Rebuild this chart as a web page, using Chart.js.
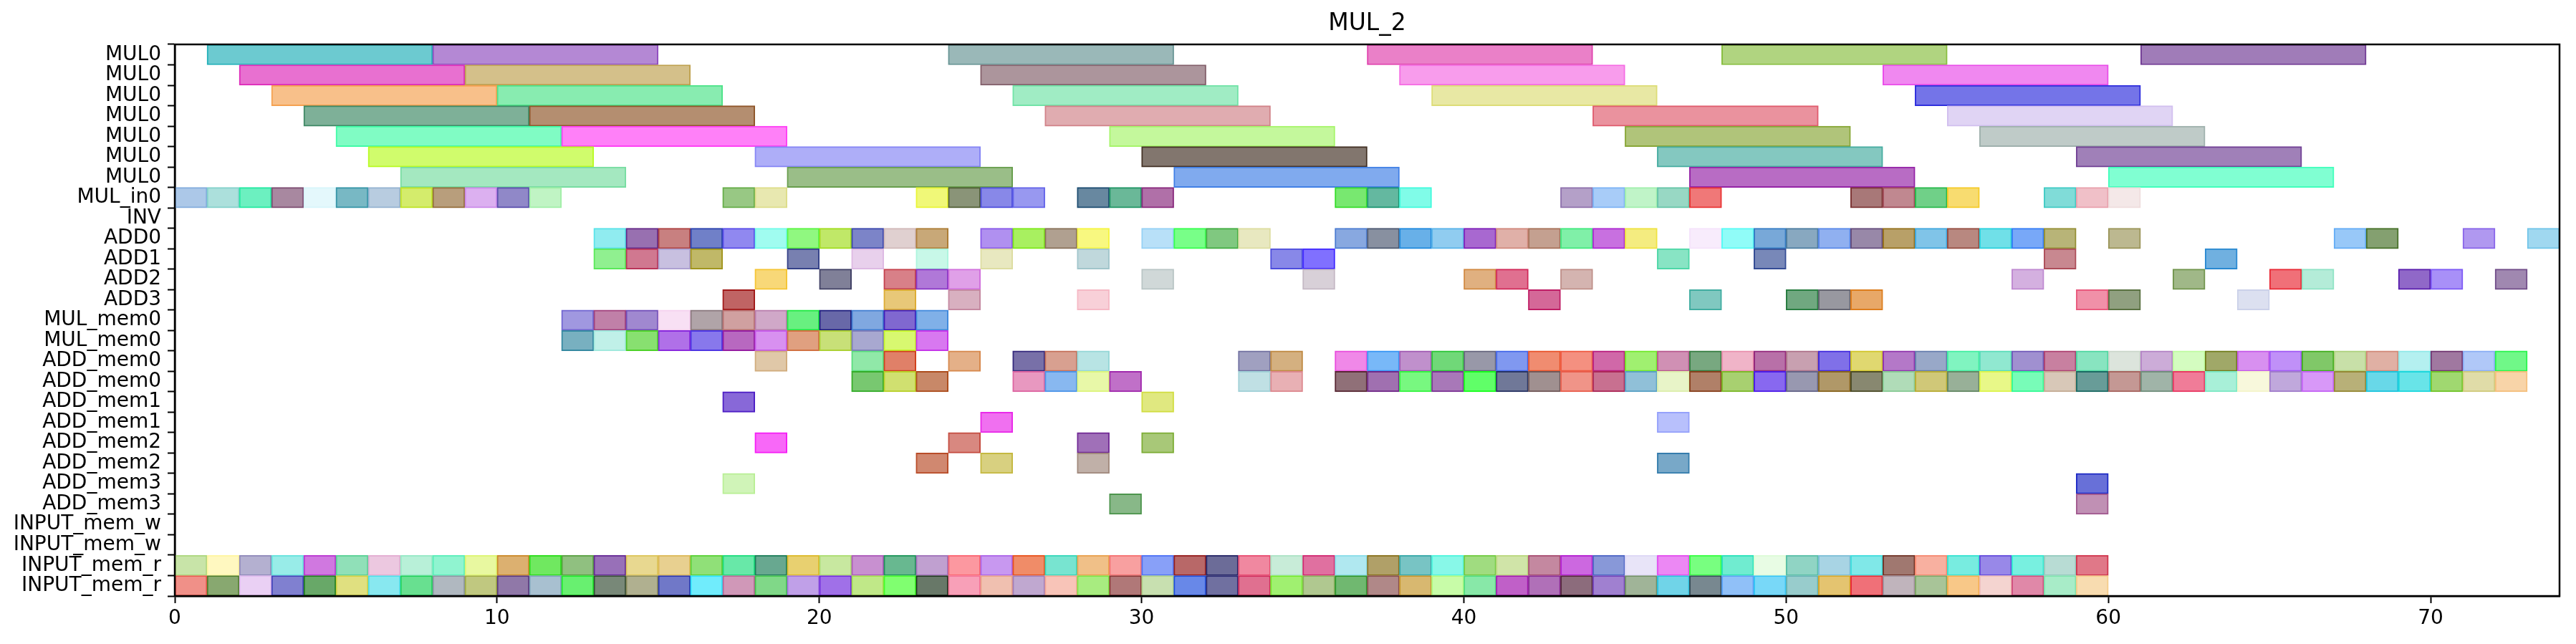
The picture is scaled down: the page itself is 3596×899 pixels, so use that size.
<!DOCTYPE html>
<html>
<head>
<meta charset="utf-8">
<title>MUL_2</title>
<script src="https://cdn.jsdelivr.net/npm/chart.js@4.4.1/dist/chart.umd.min.js"></script>
<style>
    html, body { margin: 0; padding: 0; background: #fff; }
    #wrap { width: 3596px; height: 899px; position: relative; }
</style>
</head>
<body>
<div id="wrap"><canvas id="schedule-chart"></canvas></div>
<script>
// row names, top to bottom
const rowLabels = [
    "MUL0", "MUL0", "MUL0", "MUL0", "MUL0", "MUL0", "MUL0",
    "MUL_in0", "INV", "ADD0", "ADD1", "ADD2", "ADD3",
    "MUL_mem0", "MUL_mem0", "ADD_mem0", "ADD_mem0",
    "ADD_mem1", "ADD_mem1", "ADD_mem2", "ADD_mem2",
    "ADD_mem3", "ADD_mem3", "INPUT_mem_w", "INPUT_mem_w",
    "INPUT_mem_r", "INPUT_mem_r",
];

// durations
const mulLatency = 7;
const cellLatency = 1;

// start times per row
const mul0Starts = [
    [1, 8, 24, 37, 48, 61],
    [2, 9, 25, 38, 53],
    [3, 10, 26, 39, 54],
    [4, 11, 27, 44, 55],
    [5, 12, 29, 45, 56],
    [6, 18, 30, 46, 59],
    [7, 19, 31, 47, 60],
];
const mulIn0Starts = [0, 1, 2, 3, 4, 5, 6, 7, 8, 9, 10, 11, 17, 18, 23, 24, 25, 26, 28, 29, 30,
    36, 37, 38, 43, 44, 45, 46, 47, 52, 53, 54, 55, 58, 59, 60];
const invStarts = [];
const add0Starts = [13, 14, 15, 16, 17, 18, 19, 20, 21, 22, 23, 25, 26, 27, 28, 30, 31, 32, 33,
    36, 37, 38, 39, 40, 41, 42, 43, 44, 45, 47, 48, 49, 50, 51, 52, 53, 54, 55, 56, 57, 58, 60,
    67, 68, 71, 73];
const add1Starts = [13, 14, 15, 16, 19, 21, 23, 25, 28, 34, 35, 46, 49, 58, 63];
const add2Starts = [18, 20, 22, 23, 24, 30, 35, 40, 41, 43, 57, 62, 65, 66, 69, 70, 72];
const add3Starts = [17, 22, 24, 28, 42, 47, 50, 51, 52, 59, 60, 64];
const mulMem0Starts = [
    [12, 13, 14, 15, 16, 17, 18, 19, 20, 21, 22, 23],
    [12, 13, 14, 15, 16, 17, 18, 19, 20, 21, 22, 23],
];
const addMem0Starts = [
    [18, 21, 22, 24, 26, 27, 28, 33, 34, 36, 37, 38, 39, 40, 41, 42, 43, 44, 45, 46, 47, 48, 49,
        50, 51, 52, 53, 54, 55, 56, 57, 58, 59, 60, 61, 62, 63, 64, 65, 66, 67, 68, 69, 70, 71, 72],
    [21, 22, 23, 26, 27, 28, 29, 33, 34, 36, 37, 38, 39, 40, 41, 42, 43, 44, 45, 46, 47, 48, 49,
        50, 51, 52, 53, 54, 55, 56, 57, 58, 59, 60, 61, 62, 63, 64, 65, 66, 67, 68, 69, 70, 71, 72],
];
const addMem1Starts = [[17, 30], [25, 46]];
const addMem2Starts = [[18, 24, 28, 30], [23, 25, 28, 46]];
const addMem3Starts = [[17, 59], [29, 59]];
const inputMemWStarts = [[], []];
const inputMemRStarts = [
    [0, 1, 2, 3, 4, 5, 6, 7, 8, 9, 10, 11, 12, 13, 14, 15, 16, 17, 18, 19, 20, 21, 22, 23, 24, 25,
        26, 27, 28, 29, 30, 31, 32, 33, 34, 35, 36, 37, 38, 39, 40, 41, 42, 43, 44, 45, 46, 47, 48,
        49, 50, 51, 52, 53, 54, 55, 56, 57, 58, 59],
    [0, 1, 2, 3, 4, 5, 6, 7, 8, 9, 10, 11, 12, 13, 14, 15, 16, 17, 18, 19, 20, 21, 22, 23, 24, 25,
        26, 27, 28, 29, 30, 31, 32, 33, 34, 35, 36, 37, 38, 39, 40, 41, 42, 43, 44, 45, 46, 47, 48,
        49, 50, 51, 52, 53, 54, 55, 56, 57, 58, 59],
];

// x axis
const xMax = 74;
const xStep = 10;

// fill colours, same shape as the start arrays
const mul0Colors = [
    ["#6ccad0", "#b488d4", "#9ab8b8", "#ea80c8", "#b0d480", "#a07cb8"],
    ["#e870d0", "#d4c08a", "#ac959c", "#f89cec", "#f088f0"],
    ["#f8c08a", "#88ecb0", "#a0ecc4", "#e8e8a4", "#7474e8"],
    ["#7eb098", "#b48e70", "#e0acb0", "#ea929e", "#e0d4f4"],
    ["#80fcc4", "#ff80f8", "#c4f89c", "#b0c47a", "#bfcbc8"],
    ["#d0fc6c", "#aeaef8", "#82766e", "#84c8c0", "#a080b8"],
    ["#a4e8c0", "#9abe88", "#80aaee", "#b86cc4", "#80ffd2"],
];
const mulIn0Colors = ["#acc8e8", "#ace0dc", "#6cf0c0", "#a888a0", "#e4f8fc", "#78b8c4", "#b8cce0",
    "#d4ec6c", "#b89e7c", "#dcb0f0", "#9088c8", "#c0f4c4", "#98c884", "#e8e8b0", "#f0f878",
    "#8a9478", "#8888e8", "#9898f0", "#6888a0", "#6ab898", "#b070a8", "#78e870", "#64b8a0",
    "#80fce8", "#b4a0c8", "#a8ccf8", "#c0f4c8", "#98d8c4", "#f07878", "#a87878", "#c08890",
    "#70d088", "#f8dc70", "#80dcd8", "#f0c0c8", "#f4e8e8"];
const invColors = [];
const add0Colors = ["#90ecf0", "#9870b0", "#c88080", "#7080c8", "#9088f0", "#a0fcf0", "#90f880",
    "#c0e868", "#7c84c8", "#e0d0d0", "#c8a878", "#b090f0", "#a8f060", "#b0a090", "#f8f880",
    "#b8e0f8", "#78ff88", "#80c880", "#e8e8c0", "#88a8e0", "#8890a0", "#68b0e8", "#90ccf0",
    "#a868d0", "#e0b0a8", "#c4a090", "#80f0a8", "#c870e0", "#f4ec80", "#f8ecfc", "#90fcf8",
    "#78a8d8", "#88a8c0", "#90b0f0", "#9888a8", "#b8a068", "#80c4e8", "#b88880", "#70e0e8",
    "#78a8f8", "#b8b478", "#bcb890", "#98c8f8", "#84a070", "#b098f0", "#a0d8f0"];
const add1Colors = ["#90f090", "#d07890", "#c8c0e0", "#c0b868", "#7880b0", "#e8d0ec", "#c8f8e8",
    "#e8e8c0", "#c0d8dc", "#8888e8", "#8070ff", "#88e4c4", "#7888b8", "#c88890", "#70b0e0"];
const add2Colors = ["#f8d878", "#808098", "#d88088", "#b078d8", "#e0a0e8", "#d0d8d8", "#d8d0d8",
    "#e0b080", "#e07090", "#d4b4b0", "#d4b0e0", "#a0b888", "#f07078", "#b4ecd8", "#9068c8",
    "#a890f8", "#a088b0"];
const add3Colors = ["#c06464", "#e8c878", "#d8b0c0", "#f8d0d8", "#d46898", "#80c8c0", "#70a880",
    "#9898a0", "#e8a868", "#f090a8", "#90a080", "#dce0f0"];
const mulMem0Colors = [
    ["#a098e0", "#c080a8", "#a088d0", "#f8e0f4", "#b0a4a8", "#d0a0a0", "#d0a8c8", "#68f080",
        "#6868a8", "#80a8e0", "#8068d0", "#80b0e8"],
    ["#78b0c0", "#c0f0e8", "#88e070", "#b070e8", "#8878ec", "#b868c0", "#d890f0", "#e0a080",
        "#c8e078", "#a8a8d0", "#d8f870", "#d878f0"],
];
const addMem0Colors = [
    ["#e0c8a8", "#90e8a8", "#e08068", "#e4b088", "#7870a8", "#d8a090", "#b8e4e4", "#a0a0c0",
        "#d4b080", "#f088e8", "#78b8f8", "#c090cc", "#70d878", "#9898a8", "#8098f0", "#f08c70",
        "#f49080", "#d068a8", "#a0f070", "#d090b4", "#78a880", "#f0b4c8", "#b870a8", "#c8a0b0",
        "#8070e8", "#e0d870", "#b478c8", "#98a8c8", "#80f4c0", "#90e8d0", "#a090d0", "#c880a0",
        "#88e4c0", "#dce4dc", "#ccacd8", "#d4fcc0", "#a0a868", "#d890f0", "#c090f8", "#80c868",
        "#c8e0a8", "#e0b0a4", "#b4f0f0", "#a078a0", "#b0c8f8", "#70f888"],
    ["#78c870", "#d0e070", "#c88868", "#e898c0", "#88b8f0", "#e8f8a8", "#c070c8", "#c0e0e4",
        "#e8b0b4", "#907078", "#a070b0", "#78f880", "#a878b8", "#60ff68", "#707898", "#a09090",
        "#f09488", "#c87090", "#90c0d8", "#e8f4c8", "#b08068", "#a8d070", "#8868f0", "#9898b0",
        "#b09868", "#888870", "#b0dcb8", "#d0c878", "#98b098", "#e8f888", "#78fcb8", "#d8c8b8",
        "#689c98", "#c49894", "#a0b4a8", "#f07c98", "#a8f0d8", "#f8f8dc", "#c0a8dc", "#d898f8",
        "#b8b078", "#68d8e8", "#68e4e8", "#a0d870", "#e0dca8", "#f8d4a8"],
];
const addMem1Colors = [["#8868d8", "#e0e880"], ["#f070f0", "#b8c0fc"]];
const addMem2Colors = [["#f868f8", "#d88880", "#a070b8", "#a8c878"], ["#d08870", "#d8d080", "#c0b0a8", "#78a8c8"]];
const addMem3Colors = [["#d0f4b8", "#6870d8"], ["#88b888", "#c090b4"]];
const inputMemWColors = [[], []];
const inputMemRColors = [
    ["#c8e4a8", "#fff8c0", "#b4b0d0", "#98ece8", "#d078e0", "#90e0b8", "#ecc8e0", "#b8f0d8",
        "#90f4d0", "#e8f8a0", "#dcb070", "#70e860", "#90c080", "#9870b8", "#e8d890", "#e8d090",
        "#90e078", "#68e8a8", "#68a890", "#e8d070", "#c8e8a0", "#c890d0", "#68b890", "#c0a0d0",
        "#fc98a0", "#c898f0", "#f08c68", "#78e4d0", "#f0c088", "#f8a0a0", "#88a0f8", "#b86868",
        "#6c6c98", "#f088a0", "#c8ecd8", "#e070a0", "#b0e8f0", "#b0a068", "#78c4c4", "#88f8e8",
        "#a0dc80", "#d0e4a8", "#c488a0", "#cc68e0", "#8898d8", "#e8e4f8", "#ec88f4", "#78ff80",
        "#70ecd0", "#e8fce4", "#90d4c4", "#a8d4e4", "#80e8e8", "#a07870", "#f8b0a0", "#78ece0",
        "#9888e8", "#78f0e0", "#b8dcd4", "#e07888"],
    ["#f09088", "#88a870", "#ead0f4", "#8080d0", "#68a868", "#e0e080", "#88e8f0", "#68e090",
        "#b0b8c0", "#c0c880", "#9078a8", "#a8c0d0", "#68f070", "#788878", "#b0b090", "#7078c8",
        "#70ecfc", "#d098b8", "#80d888", "#c0a0e8", "#a070e8", "#c0e888", "#80ff70", "#687868",
        "#f8a0b8", "#f0c0b0", "#c0a8d0", "#f8c4b8", "#a8ec80", "#b07878", "#c8e0b0", "#6888e8",
        "#7070a0", "#e07090", "#a0f070", "#b0c890", "#70b870", "#b08888", "#d8b870", "#c8fca8",
        "#88e8a8", "#c060c8", "#b070b8", "#8c6c7c", "#a080d0", "#a0b498", "#70d4e8", "#788890",
        "#90c0f8", "#78d8f8", "#98cccc", "#e4c470", "#f07078", "#c0b4bc", "#a8c498", "#f8c888",
        "#f4d4d0", "#e088a8", "#a8ecc8", "#f8dcb0"],
];

const rowStarts = [
    ...mul0Starts, mulIn0Starts, invStarts, add0Starts, add1Starts, add2Starts, add3Starts,
    ...mulMem0Starts, ...addMem0Starts, ...addMem1Starts, ...addMem2Starts, ...addMem3Starts,
    ...inputMemWStarts, ...inputMemRStarts,
];
const rowColors = [
    ...mul0Colors, mulIn0Colors, invColors, add0Colors, add1Colors, add2Colors, add3Colors,
    ...mulMem0Colors, ...addMem0Colors, ...addMem1Colors, ...addMem2Colors, ...addMem3Colors,
    ...inputMemWColors, ...inputMemRColors,
];

// unique keys so repeated names stay on their own row
const rowKeys = rowLabels.map((name, i) => i + "|" + name);

// edge colour: the un-faded colour behind a 0.6 alpha fill
function edgeOf(hex) {
    const n = parseInt(hex.slice(1), 16);
    const rgb = [(n >> 16) & 255, (n >> 8) & 255, n & 255];
    const out = rgb.map((f) => {
        const base = Math.max(0, Math.min(255, (f - 0.4 * 255) / 0.6));
        return Math.round(0.75 * base + 0.25 * f);
    });
    return "rgb(" + out.join(",") + ")";
}

const bars = [];
const fills = [];
const edges = [];
rowStarts.forEach((starts, r) => {
    const dur = r < mul0Starts.length ? mulLatency : cellLatency;
    starts.forEach((s, k) => {
        bars.push({ x: [s, s + dur], y: rowKeys[r] });
        fills.push(rowColors[r][k]);
        edges.push(edgeOf(rowColors[r][k]));
    });
});

const framePlugin = {
    id: "frame",
    afterDraw(chart) {
        const { ctx, chartArea } = chart;
        ctx.save();
        ctx.strokeStyle = "#000";
        ctx.lineWidth = 2.5;
        ctx.strokeRect(chartArea.left, chartArea.top,
            chartArea.right - chartArea.left, chartArea.bottom - chartArea.top);
        ctx.restore();
    },
};

Chart.defaults.font.family = "'DejaVu Sans', sans-serif";
Chart.defaults.color = "#000";

const config = {
    type: "bar",
    data: {
        labels: rowKeys,
        datasets: [
            {
                label: "tasks",
                data: bars,
                backgroundColor: fills,
                borderColor: edges,
                borderWidth: 2,
                borderSkipped: false,
                grouped: false,
                categoryPercentage: 1,
                barPercentage: 1,
            },
        ],
    },
    options: {
        indexAxis: "y",
        animation: false,
        responsive: true,
        maintainAspectRatio: false,
        devicePixelRatio: 1,
        layout: {
            padding: { left: 0, right: 23, top: 0, bottom: 0 },
        },
        scales: {
            x: {
                type: "linear",
                min: 0,
                max: xMax,
                afterFit: function (scale) {
                    scale.height = 67;
                },
                ticks: {
                    stepSize: xStep,
                    includeBounds: false,
                    font: { size: 28 },
                    color: "#000",
                    padding: 5,
                    maxRotation: 0,
                },
                grid: {
                    drawOnChartArea: false,
                    drawTicks: true,
                    tickLength: 10,
                    tickColor: "#000",
                    tickWidth: 2,
                },
                border: { display: true, color: "#000", width: 2.5 },
            },
            y: {
                type: "category",
                afterFit: function (scale) {
                    scale.width = 244;
                },
                ticks: {
                    autoSkip: false,
                    font: { size: 28 },
                    color: "#000",
                    padding: 9,
                    callback: function (val) {
                        return rowLabels[val];
                    },
                },
                grid: {
                    drawOnChartArea: false,
                    drawTicks: true,
                    tickLength: 10,
                    tickColor: "#000",
                    tickWidth: 2,
                    offset: true,
                },
                border: { display: true, color: "#000", width: 2.5 },
            },
        },
        plugins: {
            legend: { display: false },
            tooltip: { enabled: false },
            title: {
                display: true,
                text: "MUL_2",
                fullSize: false,
                color: "#000",
                font: { size: 33, weight: "normal" },
                padding: { top: 14, bottom: 8.4 },
            },
        },
    },
    plugins: [framePlugin],
};

function scheduleChart() {
    new Chart(document.getElementById("schedule-chart"), config);
}

window.addEventListener("DOMContentLoaded", () => {
    scheduleChart();
});
</script>
</body>
</html>
